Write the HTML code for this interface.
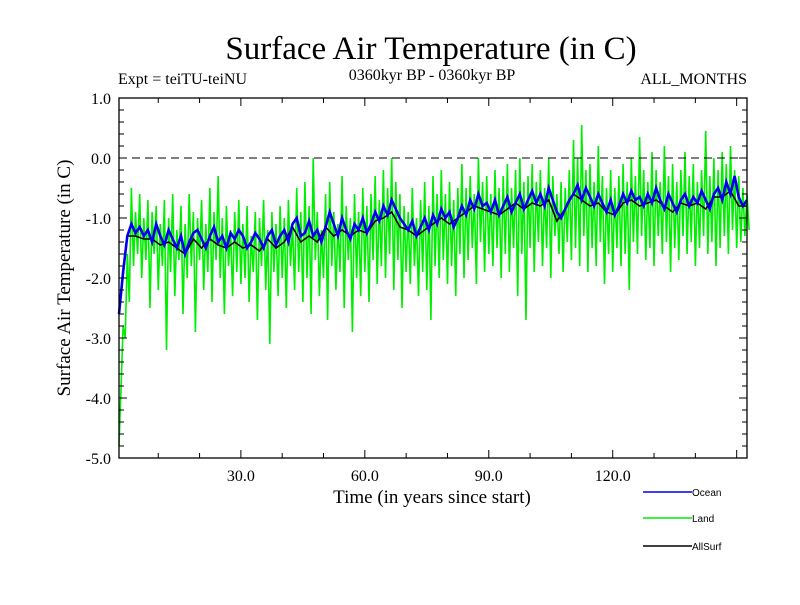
<!DOCTYPE html>
<html><head><meta charset="utf-8"><style>
body{margin:0;background:#fff}
svg text{font-family:"Liberation Serif",serif}
</style></head><body>
<svg id="c" width="800" height="600" xmlns="http://www.w3.org/2000/svg">
<rect width="800" height="600" fill="#fff"/>
<text x="431" y="59" font-size="33" text-anchor="middle">Surface Air Temperature (in C)</text>
<text x="118" y="84" font-size="16">Expt = teiTU-teiNU</text>
<text x="432" y="80" font-size="16" text-anchor="middle">0360kyr BP - 0360kyr BP</text>
<text x="747" y="84" font-size="16" text-anchor="end">ALL_MONTHS</text>
<text transform="translate(70,278) rotate(-90)" font-size="19" text-anchor="middle">Surface Air Temperature (in C)</text>
<text x="432" y="503" font-size="19" text-anchor="middle">Time (in years since start)</text>
<g id="plot"></g>
<g id="legend" font-family="Liberation Sans,sans-serif"></g>
</svg>
<script>
const yTicks=[1.0,0.0,-1.0,-2.0,-3.0,-4.0,-5.0];
const yTickLabels=["1.0","0.0","-1.0","-2.0","-3.0","-4.0","-5.0"];
const xTicks=[30,60,90,120];
const xTickLabels=["30.0","60.0","90.0","120.0"];
const seriesNames=["Ocean","Land","AllSurf"];
const ocean=[-2.6,-1.9,-1.3,-1.1,-1.25,-1.15,-1.3,-1.2,-1.4,-1.1,
-1.3,-1.45,-1.2,-1.35,-1.5,-1.3,-1.6,-1.4,-1.25,-1.2,
-1.35,-1.5,-1.3,-1.15,-1.4,-1.3,-1.5,-1.25,-1.35,-1.2,
-1.3,-1.5,-1.4,-1.25,-1.35,-1.5,-1.3,-1.2,-1.45,-1.3,
-1.2,-1.4,-1.1,-1.0,-1.3,-1.25,-1.05,-1.3,-1.2,-1.4,
-1.15,-0.9,-1.1,-1.3,-1.0,-1.2,-1.35,-1.1,-1.2,-1.0,
-1.25,-1.1,-0.9,-1.05,-0.8,-0.95,-0.7,-0.85,-1.0,-1.1,
-1.2,-1.05,-1.3,-1.15,-1.0,-1.2,-0.95,-1.1,-0.85,-1.0,
-0.9,-1.15,-1.0,-0.8,-0.95,-0.7,-0.85,-0.6,-0.8,-0.75,
-0.9,-0.7,-0.95,-0.8,-0.65,-0.9,-0.75,-0.6,-0.85,-0.7,
-0.55,-0.75,-0.6,-0.8,-0.5,-0.7,-0.9,-1.0,-0.85,-0.7,
-0.6,-0.45,-0.7,-0.5,-0.65,-0.8,-0.6,-0.75,-0.9,-0.7,
-0.95,-0.8,-0.6,-0.75,-0.55,-0.7,-0.65,-0.8,-0.6,-0.75,
-0.5,-0.7,-0.85,-0.6,-0.75,-0.9,-0.7,-0.6,-0.8,-0.65,
-0.75,-0.55,-0.7,-0.85,-0.6,-0.5,-0.7,-0.4,-0.6,-0.3,
-0.65,-0.8,-0.7];
const land=[-4.8,-3.8,-2.8,-3.0,-1.6,-2.4,-0.5,-1.8,-0.9,-1.6,-0.6,-2.0,-1.0,-1.7,-0.7,-2.5,-0.9,-1.6,-0.8,-2.2,
-1.1,-1.8,-0.7,-3.2,-1.0,-1.9,-0.6,-2.3,-1.2,-1.7,-0.8,-2.6,-1.1,-2.0,-0.6,-1.8,-0.9,-2.9,-1.0,-1.7,
-0.7,-2.2,-1.1,-1.9,-0.5,-2.4,-0.9,-1.7,-0.3,-2.0,-1.0,-2.6,-0.8,-1.8,-1.2,-2.3,-0.9,-1.9,-0.7,-2.1,
-1.1,-2.0,-0.8,-2.4,-1.3,-1.9,-0.9,-2.7,-1.0,-1.8,-0.7,-2.2,-1.2,-3.1,-0.9,-1.9,-1.1,-2.3,-0.8,-2.0,
-1.0,-2.5,-0.7,-1.8,-1.1,-2.2,-0.5,-1.9,-0.9,-2.4,-0.4,-2.0,-0.8,-2.6,0.0,-1.7,-0.9,-2.3,-1.2,-2.0,
-0.6,-2.7,-0.4,-1.8,-0.9,-2.2,-1.1,-1.9,-0.3,-2.5,-0.8,-1.7,-1.0,-2.9,-0.6,-2.0,-0.9,-2.3,-0.5,-1.9,
-0.8,-2.4,-0.6,-1.7,-0.3,-2.1,-0.7,-1.8,-0.2,-2.0,-0.5,-1.6,0.0,-2.2,-0.4,-1.7,-0.6,-2.5,-0.8,-1.9,
-0.9,-2.1,-0.5,-1.8,-1.0,-2.3,-0.7,-1.9,-0.4,-2.2,-0.8,-2.7,-0.3,-1.8,-0.6,-2.0,-0.2,-1.7,-0.6,-2.1,
-0.4,-1.8,-0.7,-2.3,-0.5,-1.6,-0.1,-2.0,-0.5,-1.7,-0.3,-1.5,-0.6,-2.1,0.0,-1.4,-0.4,-1.9,-0.3,-1.6,
-0.6,-1.8,-0.2,-1.5,-0.5,-2.0,-0.3,-1.6,-0.1,-1.9,-0.5,-1.5,-0.2,-2.3,0.0,-1.6,-0.4,-2.7,-0.3,-1.5,
-0.1,-1.9,-0.4,-1.4,-0.2,-1.8,-0.5,-1.5,0.0,-2.0,-0.3,-1.3,-0.6,-1.6,-0.4,-1.9,-0.5,-1.4,-0.2,-1.7,
0.3,-1.5,0.0,-1.8,0.55,-1.3,-0.2,-1.9,-0.1,-1.5,-0.4,-1.8,0.2,-1.4,-0.3,-2.1,-0.5,-1.6,-0.2,-1.9,
-0.5,-1.5,-0.3,-1.8,-0.1,-1.6,-0.4,-2.2,0.0,-1.4,-0.3,-1.6,0.35,-1.3,-0.2,-1.7,-0.4,-1.5,0.1,-1.8,
-0.2,-1.3,-0.4,-1.6,0.2,-1.4,-0.3,-1.9,-0.1,-1.5,-0.4,-1.7,-0.2,-1.3,0.1,-1.6,-0.3,-1.4,-0.1,-1.8,
-0.4,-1.5,-0.2,-1.3,0.45,-1.6,-0.3,-1.4,0.0,-1.8,-0.2,-1.5,0.1,-1.3,-0.1,-1.6,0.2,-1.2,-0.2,-1.5,
-0.3,-1.4,-0.5,-1.3,-0.6,-1.2];
const allsurf=[-2.6,-1.3,-1.3,-1.35,-1.35,-1.45,-1.4,-1.5,-1.6,-1.35,
-1.5,-1.35,-1.45,-1.5,-1.4,-1.5,-1.45,-1.55,-1.35,-1.5,
-1.4,-1.15,-1.4,-1.3,-1.4,-1.15,-1.3,-1.2,-1.3,-1.2,
-1.25,-1.05,-1.0,-0.9,-1.15,-1.2,-1.3,-1.2,-1.1,-1.0,
-1.1,-1.0,-0.9,-0.8,-0.85,-0.9,-0.95,-0.85,-0.75,-0.85,
-0.75,-0.8,-0.7,-1.05,-0.85,-0.6,-0.7,-0.8,-0.75,-0.9,
-0.95,-0.75,-0.7,-0.8,-0.75,-0.7,-0.8,-0.9,-0.75,-0.8,
-0.75,-0.85,-0.65,-0.65,-0.55,-0.8,-0.8];

const L=119,R=747,T=98,B=458,X0=0.5,X1=152.5,Y0=-5,Y1=1;
const sx=v=>L+(v-X0)/(X1-X0)*(R-L);
const sy=v=>B-(v-Y0)/(Y1-Y0)*(B-T);
const NS="http://www.w3.org/2000/svg";
const plot=document.getElementById('plot');
function mk(tag,attrs,parent){const e=document.createElementNS(NS,tag);for(const k in attrs)e.setAttribute(k,attrs[k]);(parent||plot).appendChild(e);return e;}
function line(vals,step,color,w,name){
  const pts=vals.map((v,i)=>sx(X0+i*step).toFixed(1)+","+sy(Math.max(Y0,v)).toFixed(1)).join(" ");
  const p=mk('polyline',{points:pts,fill:'none',stroke:color,'stroke-width':w,'stroke-linejoin':'miter'});
  
  
}
line(land,0.5,'#00ee00',1.6,'land-series');
line(allsurf,2,'#000',1.6,'allsurf-series');
line(ocean,1,'#0000ee',2.6,'ocean-series');
const zl=mk('line',{x1:L,x2:R,y1:sy(0),y2:sy(0),stroke:'#000','stroke-width':1,'stroke-dasharray':'8,5'});


const fr=mk('rect',{x:L,y:T,width:R-L,height:B-T,fill:'none',stroke:'#000','stroke-width':1.3});


for(let v=-5;v<=1.001;v+=0.2){
  const y=sy(v);const major=Math.abs(v-Math.round(v))<0.01;const len=major?8:5;
  mk('line',{x1:L,x2:L+len,y1:y,y2:y,stroke:'#000','stroke-width':1});
  mk('line',{x1:R,x2:R-len,y1:y,y2:y,stroke:'#000','stroke-width':1});
}
for(let v=10;v<X1;v+=10){
  const x=sx(v);const len=(v%30===0)?8:5;
  mk('line',{x1:x,x2:x,y1:B,y2:B-len,stroke:'#000','stroke-width':1});
  mk('line',{x1:x,x2:x,y1:T,y2:T+len,stroke:'#000','stroke-width':1});
}
yTicks.forEach((v,i)=>{const t=mk('text',{x:111,y:sy(v)+6,'font-size':16,'text-anchor':'end'});t.textContent=yTickLabels[i];

});
xTicks.forEach((v,i)=>{const t=mk('text',{x:sx(v),y:481,'font-size':16,'text-anchor':'middle'});t.textContent=xTickLabels[i];

});
const leg=document.getElementById('legend');
const legColors=['#0000ee','#00ee00','#000'];const legY=[492,518,546];
seriesNames.forEach((n,i)=>{
  const g=mk('g',{},leg);
  
  
  mk('line',{x1:643,x2:692,y1:legY[i],y2:legY[i],stroke:legColors[i],'stroke-width':1.5},g);
  const t=mk('text',{x:692,y:legY[i]+4,'font-size':10,style:'font-family:Liberation Sans,sans-serif'},g);t.textContent=n;
});
</script>
</body></html>
